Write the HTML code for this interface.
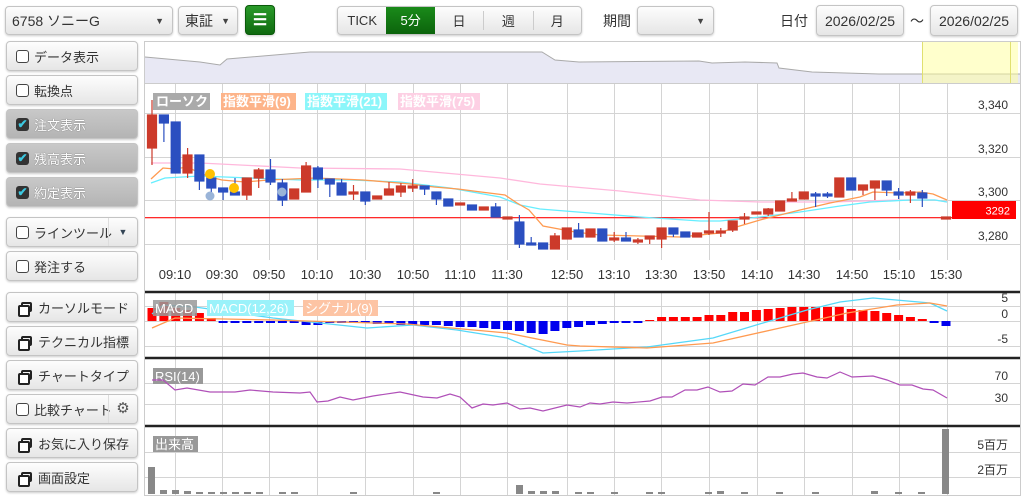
<!DOCTYPE html>
<html><head><meta charset="utf-8"><style>
body{margin:0;width:1024px;height:498px;background:#fff;font-family:"Liberation Sans","Noto Sans CJK JP",sans-serif;position:relative;overflow:hidden;color:#333}
.b{position:absolute;box-sizing:border-box;border:1px solid #c4c4c4;border-radius:4px;background:linear-gradient(#fdfdfd,#e6e6e6);box-shadow:0 1px 2px rgba(0,0,0,.2);font-size:13px;display:flex;align-items:center}
.lb{left:6px;width:132px;height:30px;padding-left:9px}
.p{background:linear-gradient(#c8c8c8,#b4b4b4);color:#fff;text-shadow:0 0 1px #555}
.cb{width:13px;height:13px;border:1px solid #444;border-radius:3px;background:#fff;margin-right:5px;box-sizing:border-box}
.ck{width:13px;height:13px;border-radius:3px;background:#333;margin-right:5px;color:#3cc8e0;font-size:12px;line-height:13px;text-align:center;font-weight:bold;text-shadow:none}
.ic{width:11px;height:10px;border:2px solid #222;margin-right:6px;position:relative;box-sizing:border-box;border-radius:2px}
.ic:before{content:"";position:absolute;left:-5px;top:1px;width:8px;height:8px;border:2px solid #222;background:#fff;border-radius:2px}
.t{position:absolute;font-size:13px}
</style></head><body>
<div class="b" style="left:5px;top:6px;width:168px;height:29px;padding-left:6px;font-size:14px">6758 ソニーG<span style="position:absolute;right:8px;font-size:9px;color:#444">▼</span></div>
<div class="b" style="left:178px;top:6px;width:60px;height:29px;padding-left:6px;font-size:14px">東証<span style="position:absolute;right:7px;font-size:9px;color:#444">▼</span></div>
<div class="b" style="left:245px;top:5px;width:30px;height:30px;background:linear-gradient(#2a9a2a,#106a10);border-color:#0a5a0a;justify-content:center;color:#fff;font-size:16px;font-weight:bold">☰</div>
<div class="b" style="left:337px;top:6px;width:245px;height:29px;padding:0">
<div style="width:49px;text-align:center">TICK</div><div style="width:49px;height:27px;line-height:27px;text-align:center;background:linear-gradient(#1a8a1a,#0c640c);color:#fff">5分</div><div style="width:49px;text-align:center;border-right:1px solid #ccc">日</div><div style="width:49px;text-align:center;border-right:1px solid #ccc">週</div><div style="width:48px;text-align:center">月</div></div>
<div class="t" style="left:603px;top:11px;font-size:14px">期間</div>
<div class="b" style="left:637px;top:6px;width:77px;height:29px"><span style="position:absolute;right:8px;font-size:9px;color:#444">▼</span></div>
<div class="t" style="left:780px;top:11px;font-size:14px">日付</div>
<div class="b" style="left:816px;top:5px;width:88px;height:31px;justify-content:center;font-size:14px">2026/02/25</div>
<div class="t" style="left:910px;top:11px;font-size:14px">～</div>
<div class="b" style="left:930px;top:5px;width:88px;height:31px;justify-content:center;font-size:14px">2026/02/25</div>

<div class="b lb" style="top:41px"><span class="cb"></span>データ表示</div>
<div class="b lb" style="top:75px"><span class="cb"></span>転換点</div>
<div class="b lb p" style="top:109px"><span class="ck">✔</span>注文表示</div>
<div class="b lb p" style="top:143px"><span class="ck">✔</span>残高表示</div>
<div class="b lb p" style="top:177px"><span class="ck">✔</span>約定表示</div>
<div class="b lb" style="top:217px"><span class="cb"></span>ラインツール<span style="position:absolute;right:0;width:28px;height:28px;border-left:1px solid #ddd;text-align:center;line-height:28px;font-size:9px;color:#345">▼</span></div>
<div class="b lb" style="top:251px"><span class="cb"></span>発注する</div>
<div class="b lb" style="top:292px;padding-left:14px"><span class="ic"></span>カーソルモード</div>
<div class="b lb" style="top:326px;padding-left:14px"><span class="ic"></span>テクニカル指標</div>
<div class="b lb" style="top:360px;padding-left:14px"><span class="ic"></span>チャートタイプ</div>
<div class="b lb" style="top:394px"><span class="cb"></span>比較チャート<span style="position:absolute;right:0;width:28px;height:28px;border-left:1px solid #ddd;text-align:center;line-height:28px;font-size:15px;color:#555">⚙</span></div>
<div class="b lb" style="top:428px;padding-left:14px"><span class="ic"></span>お気に入り保存</div>
<div class="b lb" style="top:462px;padding-left:14px"><span class="ic"></span>画面設定</div>

<svg width="1024" height="498" style="position:absolute;left:0;top:0" font-family="Liberation Sans, Noto Sans CJK JP, sans-serif">
<rect x="144.5" y="41.5" width="876" height="454" fill="none" stroke="#ccc"/>
<path d="M145,57 L200,62 L220,65 L227,59 L310,52 L542,52 L555,60 L579,62 L699,61 L712,63 L745,62 L777,63 L779,68 L812,72 L879,74 L1020,74 L1020,83 L145,83Z" fill="#e8e8f4" stroke="none"/>
<path d="M145,57 L200,62 L220,65 L227,59 L310,52 L542,52 L555,60 L579,62 L699,61 L712,63 L745,62 L777,63 L779,68 L812,72 L879,74 L1020,74" fill="none" stroke="#aaa"/>
<rect x="922" y="42" width="96" height="41" fill="#ffff99" opacity=".5"/>
<line x1="922.5" y1="42" x2="922.5" y2="83" stroke="#e0e070"/><line x1="1010.5" y1="42" x2="1010.5" y2="83" stroke="#e0e070"/>
<line x1="145" y1="83.5" x2="1020" y2="83.5" stroke="#ccc"/>
<g stroke="#d4d4d4" stroke-width="1">
<line x1="145" y1="113.5" x2="1020" y2="113.5"/><line x1="145" y1="157.5" x2="1020" y2="157.5"/><line x1="145" y1="200.5" x2="1020" y2="200.5"/><line x1="145" y1="244.5" x2="1020" y2="244.5"/>
<line x1="145" y1="306.5" x2="1020" y2="306.5"/><line x1="145" y1="321.5" x2="1020" y2="321.5"/><line x1="145" y1="346.5" x2="1020" y2="346.5"/>
<line x1="145" y1="383.5" x2="1020" y2="383.5"/><line x1="145" y1="404.5" x2="1020" y2="404.5"/>
<line x1="145" y1="452.5" x2="1020" y2="452.5"/><line x1="145" y1="477.5" x2="1020" y2="477.5"/>
</g>
<g stroke="#d4d4d4">
<path d="M175.5,84V260M222.5,84V260M269.5,84V260M317.5,84V260M365.5,84V260M413.5,84V260M460.5,84V260M507.5,84V260M567.5,84V260M614.5,84V260M661.5,84V260M709.5,84V260M757.5,84V260M804.5,84V260M852.5,84V260M899.5,84V260M947.5,84V260"/>
<path d="M175.5,293V495M222.5,293V495M269.5,293V495M317.5,293V495M365.5,293V495M413.5,293V495M460.5,293V495M507.5,293V495M567.5,293V495M614.5,293V495M661.5,293V495M709.5,293V495M757.5,293V495M804.5,293V495M852.5,293V495M899.5,293V495M947.5,293V495"/>
</g>
<g stroke="#222" stroke-width="2.5"><line x1="145" y1="292" x2="1020" y2="292"/><line x1="145" y1="358" x2="1020" y2="358"/><line x1="145" y1="426" x2="1020" y2="426"/></g>
<g font-size="13" fill="#333" text-anchor="middle">
<text x="175" y="279">09:10</text><text x="222" y="279">09:30</text><text x="269" y="279">09:50</text><text x="317" y="279">10:10</text><text x="365" y="279">10:30</text><text x="413" y="279">10:50</text><text x="460" y="279">11:10</text><text x="507" y="279">11:30</text><text x="567" y="279">12:50</text><text x="614" y="279">13:10</text><text x="661" y="279">13:30</text><text x="709" y="279">13:50</text><text x="757" y="279">14:10</text><text x="804" y="279">14:30</text><text x="852" y="279">14:50</text><text x="899" y="279">15:10</text><text x="946" y="279">15:30</text>
</g>
<g font-size="12" fill="#333" text-anchor="end">
<text x="1008" y="109">3,340</text><text x="1008" y="153">3,320</text><text x="1008" y="196">3,300</text><text x="1008" y="240">3,280</text>
<text x="1008" y="302">5</text><text x="1008" y="318">0</text><text x="1008" y="343">-5</text>
<text x="1008" y="380">70</text><text x="1008" y="402">30</text>
<text x="1008" y="449">5百万</text><text x="1008" y="474">2百万</text>
</g>
<rect x="145" y="217" width="807" height="1.3" fill="#ff2a2a"/>
<rect x="952" y="201" width="64" height="18" fill="#ff0000"/>
<text x="1010" y="214.5" font-size="11" fill="#fff" text-anchor="end">3292</text>
<polyline fill="none" stroke="#ffb8dc" stroke-width="1.3" points="151,163 200,163 300,168 400,169 500,178 540,184 620,191 700,200 760,202 830,202 900,200 935,200 947,202"/>
<polyline fill="none" stroke="#66eeff" stroke-width="1.3" points="151,183 165,178 200,176 250,178 300,180 350,180 400,182 450,188 500,197 520,205 540,209 590,213 640,217 700,221 720,221 760,217 800,212 840,206 870,202 910,200 935,200 947,202"/>
<polyline fill="none" stroke="#ff9a50" stroke-width="1.3" points="151,179 163,168 175,169 187,167 198,172 210,177 222,180 233,181 245,182 268,180 292,179 316,178 340,179 363,180 387,182 410,184 434,187 458,189 481,192 505,195 517,203 529,210 543,226 575,232 600,235 640,236 680,237 720,233 733,228 760,220 800,210 830,203 860,197 873,192 900,193 920,192 933,194 947,200"/>
<g stroke-width="1.2">
<g stroke="#cc3a2a" fill="#cc3a2a">
<line x1="152" y1="100" x2="152" y2="165"/><rect x="147.5" y="115" width="9" height="33"/>
<line x1="187.6" y1="148" x2="187.6" y2="178"/><rect x="183" y="155" width="9" height="18"/>
<line x1="246.8" y1="178" x2="246.8" y2="200"/><rect x="242.3" y="178" width="9" height="17"/>
<line x1="258.7" y1="168" x2="258.7" y2="188"/><rect x="254.2" y="170" width="9" height="8"/>
<rect x="289.7" y="189" width="9" height="10"/>
<line x1="306.1" y1="162" x2="306.1" y2="192"/><rect x="301.6" y="166" width="9" height="26"/>
<line x1="353.5" y1="185" x2="353.5" y2="200"/><rect x="349" y="192" width="9" height="2"/>
<rect x="372.7" y="196" width="9" height="3"/>
<line x1="389" y1="182" x2="389" y2="195"/><rect x="384.5" y="189" width="9" height="6"/>
<line x1="400.9" y1="183" x2="400.9" y2="197"/><rect x="396.4" y="186" width="9" height="6"/>
<line x1="412.7" y1="179" x2="412.7" y2="192"/><rect x="408.2" y="186" width="9" height="2"/>
<rect x="455.6" y="203" width="9" height="2"/>
<rect x="479.3" y="207" width="9" height="3"/>
<rect x="503" y="217" width="9" height="2"/>
<line x1="554.9" y1="233" x2="554.9" y2="249"/><rect x="550.4" y="236" width="9" height="13"/>
<rect x="562.3" y="228" width="9" height="11"/>
<rect x="586" y="229" width="9" height="8"/>
<line x1="614.2" y1="232" x2="614.2" y2="242"/><rect x="609.7" y="238" width="9" height="2"/>
<line x1="637.9" y1="238" x2="637.9" y2="244"/><rect x="633.4" y="240" width="9" height="2"/>
<line x1="649.7" y1="236" x2="649.7" y2="244"/><rect x="645.2" y="236" width="9" height="3"/>
<line x1="661.6" y1="228" x2="661.6" y2="248"/><rect x="657.1" y="228" width="9" height="11"/>
<rect x="692.6" y="233" width="9" height="4"/>
<line x1="709" y1="212" x2="709" y2="235"/><rect x="704.5" y="231" width="9" height="2"/>
<line x1="720.8" y1="228" x2="720.8" y2="237"/><rect x="716.3" y="231" width="9" height="2"/>
<line x1="732.7" y1="221" x2="732.7" y2="232"/><rect x="728.2" y="221" width="9" height="9"/>
<line x1="744.5" y1="213" x2="744.5" y2="224"/><rect x="740" y="217" width="9" height="2"/>
<rect x="751.9" y="212" width="9" height="2"/>
<line x1="768.2" y1="208" x2="768.2" y2="216"/><rect x="763.7" y="209" width="9" height="5"/>
<rect x="775.6" y="201" width="9" height="10"/>
<line x1="791.9" y1="192" x2="791.9" y2="201"/><rect x="787.4" y="199" width="9" height="2"/>
<rect x="799.3" y="192" width="9" height="7"/>
<rect x="834.8" y="178" width="9" height="19"/>
<line x1="863" y1="185" x2="863" y2="195"/><rect x="858.5" y="185" width="9" height="5"/>
<line x1="874.9" y1="181" x2="874.9" y2="200"/><rect x="870.4" y="181" width="9" height="7"/>
<line x1="910.4" y1="190" x2="910.4" y2="203"/><rect x="905.9" y="192" width="9" height="3"/>
<rect x="941.5" y="217" width="9" height="2"/>
</g>
<g stroke="#2b4fc0" fill="#2b4fc0">
<line x1="163.9" y1="115" x2="163.9" y2="142"/><rect x="159.4" y="115" width="9" height="8"/>
<rect x="171.2" y="122" width="9" height="51"/>
<line x1="199.4" y1="155" x2="199.4" y2="190"/><rect x="194.9" y="155" width="9" height="26"/>
<line x1="211.3" y1="173" x2="211.3" y2="200"/><rect x="206.8" y="178" width="9" height="10"/>
<line x1="223.1" y1="188" x2="223.1" y2="200"/><rect x="218.6" y="188" width="9" height="4"/>
<line x1="235" y1="178" x2="235" y2="195"/><rect x="230.5" y="192" width="9" height="3"/>
<line x1="270.5" y1="159" x2="270.5" y2="185"/><rect x="266" y="170" width="9" height="12"/>
<line x1="282.4" y1="179" x2="282.4" y2="206"/><rect x="277.9" y="183" width="9" height="17"/>
<line x1="317.9" y1="166" x2="317.9" y2="188"/><rect x="313.4" y="168" width="9" height="11"/>
<line x1="329.8" y1="179" x2="329.8" y2="197"/><rect x="325.3" y="179" width="9" height="5"/>
<line x1="341.6" y1="179" x2="341.6" y2="195"/><rect x="337.1" y="183" width="9" height="12"/>
<line x1="365.3" y1="192" x2="365.3" y2="205"/><rect x="360.8" y="192" width="9" height="9"/>
<line x1="424.6" y1="186" x2="424.6" y2="195"/><rect x="420.1" y="186" width="9" height="3"/>
<line x1="436.4" y1="192" x2="436.4" y2="205"/><rect x="431.9" y="192" width="9" height="7"/>
<rect x="443.8" y="199" width="9" height="7"/>
<rect x="467.5" y="205" width="9" height="5"/>
<line x1="495.7" y1="203" x2="495.7" y2="217"/><rect x="491.2" y="207" width="9" height="10"/>
<line x1="519.4" y1="215" x2="519.4" y2="248"/><rect x="514.9" y="222" width="9" height="22"/>
<line x1="531.2" y1="237" x2="531.2" y2="245"/><rect x="526.7" y="243" width="9" height="2"/>
<rect x="538.6" y="243" width="9" height="6"/>
<line x1="578.6" y1="223" x2="578.6" y2="237"/><rect x="574.1" y="230" width="9" height="7"/>
<rect x="597.8" y="229" width="9" height="12"/>
<line x1="626" y1="232" x2="626" y2="241"/><rect x="621.5" y="238" width="9" height="3"/>
<line x1="673.4" y1="228" x2="673.4" y2="237"/><rect x="668.9" y="228" width="9" height="6"/>
<rect x="680.8" y="232" width="9" height="5"/>
<line x1="815.6" y1="192" x2="815.6" y2="207"/><rect x="811.1" y="194" width="9" height="2"/>
<line x1="827.5" y1="192" x2="827.5" y2="198"/><rect x="823" y="194" width="9" height="2"/>
<rect x="846.7" y="178" width="9" height="12"/>
<line x1="886.7" y1="181" x2="886.7" y2="196"/><rect x="882.2" y="181" width="9" height="9"/>
<line x1="898.6" y1="188" x2="898.6" y2="199"/><rect x="894.1" y="192" width="9" height="3"/>
<line x1="922.3" y1="190" x2="922.3" y2="207"/><rect x="917.8" y="193" width="9" height="5"/>
</g>
</g>
<circle cx="210" cy="174" r="5" fill="#ffc000"/><circle cx="234" cy="188" r="5" fill="#ffc000"/>
<circle cx="210" cy="196" r="4.5" fill="#9ab4d8"/><circle cx="282" cy="192" r="4.5" fill="#9ab4d8"/>
<g font-size="13" fill="#fff" font-weight="bold">
<rect x="153" y="93" width="57" height="17" fill="#aaa"/><text x="156" y="106">ローソク</text>
<rect x="221" y="93" width="75" height="17" fill="#fdb48a"/><text x="223" y="106">指数平滑(9)</text>
<rect x="305" y="93" width="82" height="17" fill="#8cf6fa"/><text x="307" y="106">指数平滑(21)</text>
<rect x="398" y="93" width="82" height="17" fill="#fdd0e4"/><text x="400" y="106">指数平滑(75)</text>
</g>
<g fill="#ff0000">
<rect x="147.5" y="308" width="9" height="13"/><rect x="159.4" y="302" width="9" height="19"/><rect x="171.2" y="308" width="9" height="13"/><rect x="183" y="310" width="9" height="11"/><rect x="194.9" y="313" width="9" height="8"/><rect x="206.8" y="318" width="9" height="3"/>
<rect x="645.2" y="320" width="9" height="1"/><rect x="657.1" y="317" width="9" height="4"/><rect x="668.9" y="317" width="9" height="4"/><rect x="680.8" y="317" width="9" height="4"/><rect x="692.6" y="317" width="9" height="4"/><rect x="704.5" y="315" width="9" height="6"/><rect x="716.3" y="315" width="9" height="6"/><rect x="728.2" y="312" width="9" height="9"/><rect x="740" y="312" width="9" height="9"/><rect x="751.9" y="310" width="9" height="11"/><rect x="763.7" y="309" width="9" height="12"/><rect x="775.6" y="308" width="9" height="13"/><rect x="787.4" y="307" width="9" height="14"/><rect x="799.3" y="307" width="9" height="14"/><rect x="811.1" y="307" width="9" height="14"/><rect x="823" y="307" width="9" height="14"/><rect x="834.8" y="307" width="9" height="14"/><rect x="846.7" y="309" width="9" height="12"/><rect x="858.5" y="310" width="9" height="11"/><rect x="870.4" y="311" width="9" height="10"/><rect x="882.2" y="313" width="9" height="8"/><rect x="894.1" y="315" width="9" height="6"/><rect x="905.9" y="317" width="9" height="4"/><rect x="917.8" y="319" width="9" height="2"/>
</g>
<g fill="#0000ee">
<rect x="218.6" y="321" width="9" height="2"/><rect x="230.5" y="321" width="9" height="2"/><rect x="242.3" y="321" width="9" height="2"/><rect x="254.2" y="321" width="9" height="2"/><rect x="266" y="321" width="9" height="2"/><rect x="277.9" y="321" width="9" height="2"/><rect x="289.7" y="321" width="9" height="2"/><rect x="301.6" y="321" width="9" height="4"/><rect x="313.4" y="321" width="9" height="4"/><rect x="325.3" y="321" width="9" height="2"/><rect x="337.1" y="321" width="9" height="2"/><rect x="349" y="321" width="9" height="2"/><rect x="360.8" y="321" width="9" height="2"/><rect x="372.7" y="321" width="9" height="3"/><rect x="384.5" y="321" width="9" height="3"/><rect x="396.4" y="321" width="9" height="4"/><rect x="408.2" y="321" width="9" height="4"/><rect x="420.1" y="321" width="9" height="4"/><rect x="431.9" y="321" width="9" height="4"/><rect x="443.8" y="321" width="9" height="5"/><rect x="455.6" y="321" width="9" height="6"/><rect x="467.5" y="321" width="9" height="6"/><rect x="479.3" y="321" width="9" height="7"/><rect x="491.2" y="321" width="9" height="8"/><rect x="503" y="321" width="9" height="9"/><rect x="514.9" y="321" width="9" height="10"/><rect x="526.7" y="321" width="9" height="12"/><rect x="538.6" y="321" width="9" height="13"/><rect x="550.4" y="321" width="9" height="10"/><rect x="562.3" y="321" width="9" height="7"/><rect x="574.1" y="321" width="9" height="6"/><rect x="586" y="321" width="9" height="4"/><rect x="597.8" y="321" width="9" height="3"/><rect x="609.7" y="321" width="9" height="2"/><rect x="621.5" y="321" width="9" height="2"/><rect x="633.4" y="321" width="9" height="2"/><rect x="929.6" y="321" width="9" height="2"/><rect x="941.5" y="321" width="9" height="5"/>
</g>
<polyline fill="none" stroke="#55d8f8" stroke-width="1.3" points="152,314 163,305 195,307 273,318 367,328 413,325 457,330 507,338 543,353 580,351 647,347 713,338 763,323 807,310 840,302 873,298 930,303 947,311"/>
<polyline fill="none" stroke="#ff9a50" stroke-width="1.3" points="152,328 175,318 273,320 407,324 507,333 567,345 580,346 647,348 713,343 780,328 847,313 897,305 930,303 947,306"/>
<g font-size="13" fill="#fff">
<rect x="153" y="300" width="44" height="16" fill="#999" opacity=".85"/><text x="155" y="313">MACD</text>
<rect x="207" y="300" width="87" height="16" fill="#9af2fa"/><text x="209" y="313">MACD(12,26)</text>
<rect x="303" y="300" width="75" height="16" fill="#fdc4a4"/><text x="305" y="313">シグナル(9)</text>
<rect x="153" y="368" width="50" height="16" fill="#999"/><text x="155" y="381">RSI(14)</text>
<rect x="153" y="436" width="45" height="16" fill="#999"/><text x="155" y="449">出来高</text>
</g>
<polyline fill="none" stroke="#b050b8" stroke-width="1.2" points="152,380 163,380 175,390 187,388 210,392 235,392 250,390 273,392 300,393 310,392 317,402 328,401 340,397 353,400 373,396 400,392 423,397 437,398 450,394 460,397 472,408 483,404 493,405 507,403 520,409 530,408 543,411 567,405 580,407 590,403 600,404 613,402 627,403 650,401 662,397 672,397 685,390 697,390 708,387 720,392 732,391 743,384 755,385 768,377 780,377 793,374 803,373 817,377 827,378 840,372 852,377 873,376 887,380 900,385 912,385 923,389 933,390 947,398"/>
<g fill="#888">
<rect x="148" y="467" width="7" height="27"/><rect x="160" y="490" width="7" height="4"/><rect x="172" y="490" width="7" height="4"/><rect x="184" y="491" width="7" height="3"/><rect x="196" y="492" width="7" height="2"/><rect x="208" y="492" width="7" height="2"/><rect x="220" y="492" width="7" height="2"/><rect x="232" y="492" width="7" height="2"/><rect x="244" y="492" width="7" height="2"/><rect x="256" y="492" width="7" height="2"/><rect x="279" y="492" width="7" height="2"/><rect x="291" y="492" width="7" height="2"/><rect x="350" y="492" width="7" height="2"/><rect x="433" y="492" width="7" height="2"/><rect x="516" y="485" width="7" height="9"/><rect x="528" y="491" width="7" height="3"/><rect x="540" y="491" width="7" height="3"/><rect x="552" y="491" width="7" height="3"/><rect x="575" y="492" width="7" height="2"/><rect x="587" y="492" width="7" height="2"/><rect x="611" y="492" width="7" height="2"/><rect x="646" y="492" width="7" height="2"/><rect x="658" y="492" width="7" height="2"/><rect x="705" y="492" width="7" height="2"/><rect x="717" y="491" width="7" height="3"/><rect x="741" y="492" width="7" height="2"/><rect x="776" y="492" width="7" height="2"/><rect x="812" y="492" width="7" height="2"/><rect x="871" y="491" width="7" height="3"/><rect x="895" y="492" width="7" height="2"/><rect x="918" y="492" width="7" height="2"/><rect x="942" y="429" width="7" height="65"/>
</g>
</svg>
</body></html>
